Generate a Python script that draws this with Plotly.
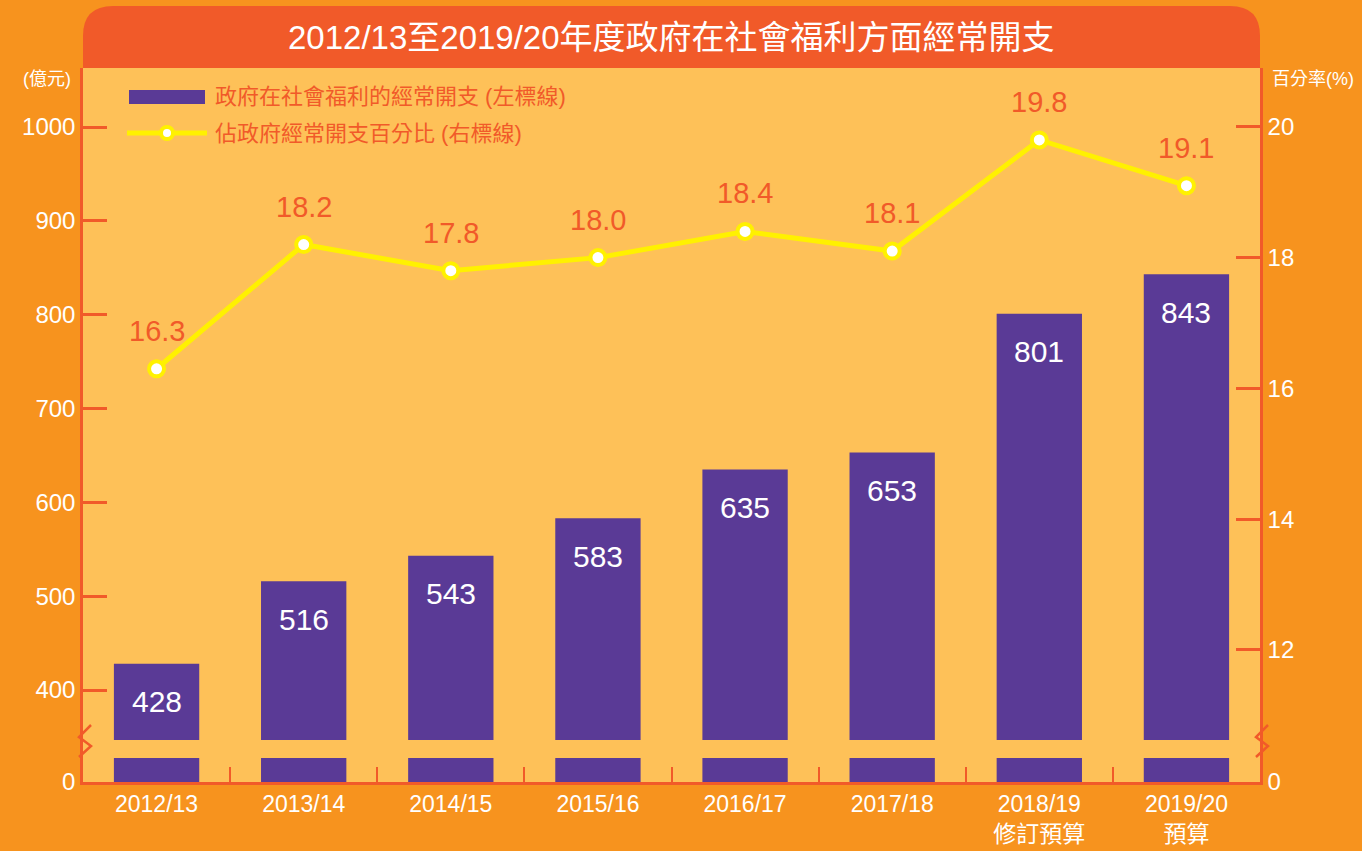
import plotly.graph_objects as go

# ---- data ----
categories = ["2012/13", "2013/14", "2014/15", "2015/16", "2016/17", "2017/18",
              "2018/19<br>修訂預算", "2019/20<br>預算"]
spending = [428, 516, 543, 583, 635, 653, 801, 843]          # 億元 (left axis)
share_pct = [16.3, 18.2, 17.8, 18.0, 18.4, 18.1, 19.8, 19.1]  # % (right axis)
left_ticks = [400, 500, 600, 700, 800, 900, 1000]
right_ticks = [12, 14, 16, 18, 20]

title = "2012/13至2019/20年度政府在社會福利方面經常開支"
legend_bar = "政府在社會福利的經常開支 (左標線)"
legend_line = "佔政府經常開支百分比 (右標線)"

# ---- styles ----
BG = "#F7931E"
PLOT_BG = "#FEC158"
RED = "#F15A29"
PURPLE = "#5A3A96"
YELLOW = "#FFF100"
FONT = "Liberation Sans, Arial, Noto Sans CJK TC, sans-serif"

W, H = 1362, 851
L, R, T, B = 83, 1260, 68, 782


def X(px):
    return (px - L) / (R - L)


def Y(py):
    return (B - py) / (B - T)


LEFT_RANGE = [301.95, 1062.9]
RIGHT_RANGE = [9.98, 20.90]

fig = go.Figure()
fig.add_trace(go.Bar(
    x=categories, y=spending,
    marker=dict(color=PURPLE, line=dict(width=0)),
    name=legend_bar, showlegend=False, yaxis="y", hoverinfo="skip",
))
fig.add_trace(go.Scatter(
    x=categories, y=share_pct, mode="lines+markers",
    line=dict(color=YELLOW, width=5),
    marker=dict(size=15, color="white", line=dict(color=YELLOW, width=4)),
    name=legend_line, showlegend=False, yaxis="y2", hoverinfo="skip",
))

annotations = []
for c, v in zip(categories, spending):
    annotations.append(dict(x=c, y=v, xref="x", yref="y", text=str(v),
                            showarrow=False, yshift=-38, yanchor="middle",
                            font=dict(color="white", size=30, family=FONT)))
for c, v in zip(categories, share_pct):
    annotations.append(dict(x=c, y=v, xref="x", yref="y2", text=f"{v:.1f}",
                            showarrow=False, yshift=38, yanchor="middle",
                            font=dict(color=RED, size=29, family=FONT)))

# title
annotations.append(dict(x=0.5, y=Y(38), xref="paper", yref="paper", text=title,
                        showarrow=False, yanchor="middle", xanchor="center",
                        font=dict(color="white", size=33, family=FONT)))
# axis titles
annotations.append(dict(x=X(73), y=Y(79), xref="paper", yref="paper", text="(億元)",
                        xanchor="right", yanchor="middle", showarrow=False,
                        font=dict(color="white", size=18, family=FONT)))
annotations.append(dict(x=X(1270), y=Y(79), xref="paper", yref="paper", text="百分率(%)",
                        xanchor="left", yanchor="middle", showarrow=False,
                        font=dict(color="white", size=18, family=FONT)))
# legend texts
annotations.append(dict(x=X(213), y=Y(97), xref="paper", yref="paper", text=legend_bar,
                        xanchor="left", yanchor="middle", showarrow=False,
                        font=dict(color=RED, size=22, family=FONT)))
annotations.append(dict(x=X(213), y=Y(133), xref="paper", yref="paper", text=legend_line,
                        xanchor="left", yanchor="middle", showarrow=False,
                        font=dict(color=RED, size=22, family=FONT)))

shapes = []
# title bar with rounded top corners
r = 30
path = (f"M {X(L)},{Y(T)} L {X(L)},{Y(6 + r)} Q {X(L)},{Y(6)} {X(L + r)},{Y(6)} "
        f"L {X(R - r)},{Y(6)} Q {X(R)},{Y(6)} {X(R)},{Y(6 + r)} L {X(R)},{Y(T)} Z")
shapes.append(dict(type="path", path=path, xref="paper", yref="paper",
                   fillcolor=RED, line=dict(width=0), layer="above"))
# break band across bars
shapes.append(dict(type="rect", xref="paper", yref="paper", x0=0.004, x1=0.996,
                   y0=Y(758), y1=Y(740), fillcolor=PLOT_BG, line=dict(width=0),
                   layer="above"))
# axis-break zigzags
for cx in (L + 1, R + 1):
    zp = (f"M {X(cx + 7)},{Y(725)} L {X(cx - 5)},{Y(737)} "
          f"L {X(cx + 7)},{Y(746)} L {X(cx - 5)},{Y(757)}")
    shapes.append(dict(type="path", path=zp, xref="paper", yref="paper",
                       line=dict(color=RED, width=2.5), layer="above"))
# legend symbols
shapes.append(dict(type="rect", xref="paper", yref="paper", x0=X(129), x1=X(205),
                   y0=Y(104), y1=Y(90), fillcolor=PURPLE, line=dict(width=0),
                   layer="above"))
shapes.append(dict(type="line", xref="paper", yref="paper", x0=X(127), x1=X(207),
                   y0=Y(133), y1=Y(133), line=dict(color=YELLOW, width=5),
                   layer="above"))
shapes.append(dict(type="circle", xref="paper", yref="paper", x0=X(161), x1=X(173),
                   y0=Y(139), y1=Y(127), fillcolor="white",
                   line=dict(color=YELLOW, width=4), layer="above"))

axis_common = dict(showgrid=False, zeroline=False, showline=True, linecolor=RED,
                   linewidth=2.5, ticks="inside", tickcolor=RED, tickwidth=2.5,
                   automargin=False,
                   tickfont=dict(color="white", size=24, family=FONT))

fig.update_layout(
    width=W, height=H,
    margin=dict(l=L, r=W - R, t=T, b=H - B, pad=0, autoexpand=False),
    paper_bgcolor=BG, plot_bgcolor=PLOT_BG,
    bargap=0.42, showlegend=False,
    font=dict(family=FONT),
    xaxis=dict(type="category", showgrid=False, showline=True, linecolor=RED,
               linewidth=2.5, ticks="inside", tickson="boundaries", ticklen=15,
               automargin=False,
               tickcolor=RED, tickwidth=2, tickfont=dict(color="white", size=23, family=FONT),
               range=[-0.5, len(categories) - 0.5]),
    yaxis=dict(range=LEFT_RANGE, tickvals=[LEFT_RANGE[0] + 0.05] + left_ticks,
               ticktext=["0"] + [str(v) for v in left_ticks], ticklen=24,
               side="left", **axis_common),
    yaxis2=dict(range=RIGHT_RANGE, tickvals=[RIGHT_RANGE[0] + 0.001] + right_ticks,
                ticktext=["0"] + [str(v) for v in right_ticks], ticklen=24,
                side="right", overlaying="y", **axis_common),
    annotations=annotations,
    shapes=shapes,
)

fig.write_html("out.html", config={"displayModeBar": False},
               post_script="document.body.style.margin='0';document.body.style.padding='0';")
